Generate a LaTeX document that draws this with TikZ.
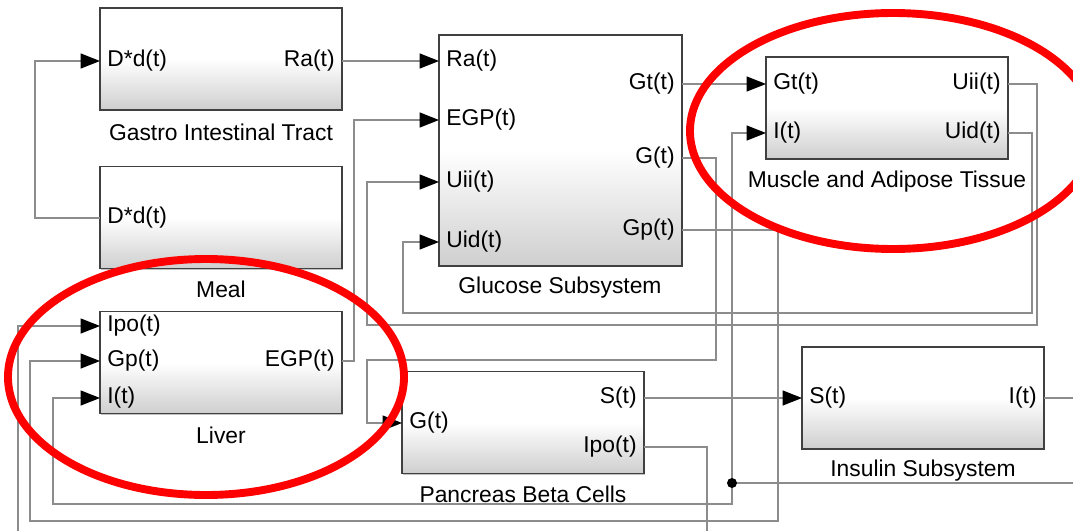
\documentclass[tikz,border=0pt]{standalone}
\usepackage{fontspec}
\setmainfont{Liberation Sans}
\usetikzlibrary{arrows.meta,shadows,calc}
\begin{document}
\begin{tikzpicture}[x=0.02cm,y=-0.02cm,
  font=\fontsize{13}{15}\selectfont,
  block/.style={draw=black!75, line width=0.9pt, minimum width=4.84cm, minimum height=2.04cm,
    top color=white, bottom color=black!19, middle color=white,
    drop shadow={shadow xshift=0.8pt, shadow yshift=-0.8pt, fill=black!40, opacity=0.6}, inner sep=0pt},
  inport/.style={anchor=west, inner xsep=4pt, inner ysep=0pt},
  outport/.style={anchor=east, inner xsep=4pt, inner ysep=0pt},
  title/.style={anchor=center, inner sep=0pt},
  wire/.style={draw=black!45, line width=0.7pt},
  arr/.style={wire, -{Triangle[length=11pt,width=8.5pt,color=black]}},
  ring/.style={draw=red, line width=4.5pt}
]
\useasboundingbox (0,0) rectangle (1073,531);
\fill[white] (0,0) rectangle (1073,531);
\clip (0,0) rectangle (1073,531);

% blocks
\node[block] (git) at (221,59) {};
\node[block] (meal) at (221,217.5) {};
\node[block, minimum width=4.86cm, minimum height=4.62cm] (gs) at (560.5,150.5) {};
\node[block] (ma) at (887,108) {};
\node[block] (lv) at (221,362.5) {};
\node[block] (pb) at (523,422.5) {};
\node[block] (is) at (923,398) {};

% titles
\node[title] (git-t) at (221,132) {Gastro Intestinal Tract};
\node[title] (meal-t) at (221,289) {Meal};
\node[title] (gs-t) at (560,288) {Glucose Subsystem};
\node[title] (ma-t) at (887,182) {Muscle and Adipose Tissue};
\node[title] (lv-t) at (221,435) {Liver};
\node[title] (pb-t) at (523,494) {Pancreas Beta Cells};
\node[title] (is-t) at (923,471) {Insulin Subsystem};

% ports
\node[inport] (git-d) at (100,61) {D*d(t)};
\node[outport] (git-ra) at (342,61) {Ra(t)};
\node[inport] (meal-d) at (100,218) {D*d(t)};
\node[inport] (gs-ra) at (439,61) {Ra(t)};
\node[inport] (gs-egp) at (439,120) {EGP(t)};
\node[inport] (gs-uii) at (439,182) {Uii(t)};
\node[inport] (gs-uid) at (439,242) {Uid(t)};
\node[outport] (gs-gt) at (682,84) {Gt(t)};
\node[outport] (gs-g) at (682,158) {G(t)};
\node[outport] (gs-gp) at (682,230) {Gp(t)};
\node[inport] (ma-gt) at (766,84) {Gt(t)};
\node[inport] (ma-i) at (766,133) {I(t)};
\node[outport] (ma-uii) at (1008,84) {Uii(t)};
\node[outport] (ma-uid) at (1008,133) {Uid(t)};
\node[inport] (lv-ipo) at (100,326) {Ipo(t)};
\node[inport] (lv-gp) at (100,361) {Gp(t)};
\node[inport] (lv-i) at (100,398) {I(t)};
\node[outport] (lv-egp) at (342,361) {EGP(t)};
\node[inport] (pb-g) at (402,423) {G(t)};
\node[outport] (pb-s) at (644,398) {S(t)};
\node[outport] (pb-ipo) at (644,447) {Ipo(t)};
\node[inport] (is-s) at (802,398) {S(t)};
\node[outport] (is-i) at (1044,398) {I(t)};

% wires
\draw[arr] (git-ra.east) -- (gs-ra.west);
\draw[arr] (meal-d.west) -- (35,218) |- (git-d.west);
\draw[arr] (lv-egp.east) -| (354,120) -- (gs-egp.west);
\draw[arr] (ma-uii.east) -| (1037,325) -| (367,182) -- (gs-uii.west);
\draw[arr] (ma-uid.east) -| (1032,313) -| (403,242) -- (gs-uid.west);
\draw[arr] (gs-gt.east) -- (ma-gt.west);
\draw[arr] (gs-g.east) -| (716,360) -| (367,423) -- (pb-g.west);
\draw[arr] (gs-gp.east) -| (778,521) -| (30,361) -- (lv-gp.west);
\draw[arr] (pb-s.east) -- (is-s.west);
\coordinate (jn) at (732,483);
\draw[wire] (is-i.east) -| (1095,483) -- (jn);
\draw[arr] (jn) |- (ma-i.west);
\draw[arr] (jn) -- (732,504) -| (53,398) -- (lv-i.west);
\draw[arr] (pb-ipo.east) -| (707,560) -| (18,326) -- (lv-ipo.west);
\fill (jn) circle[radius=5];

% highlight rings
\draw[ring] (893,131) ellipse[x radius=203, y radius=118];
\draw[ring] (206,377) ellipse[x radius=198, y radius=118];
\end{tikzpicture}
\end{document}
